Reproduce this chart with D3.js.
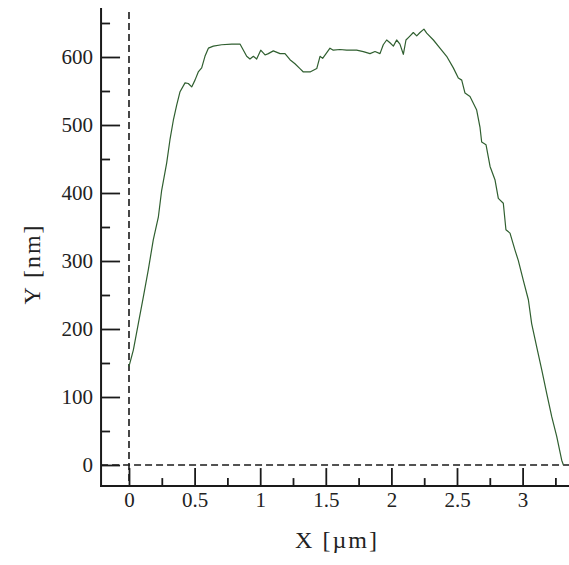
<!DOCTYPE html>
<html>
<head>
<meta charset="utf-8">
<script src="https://cdn.jsdelivr.net/npm/d3@7/dist/d3.min.js"></script>
<style>
  html, body { margin: 0; padding: 0; background: #ffffff; }
  svg { display: block; }
  text { font-family: "Liberation Serif", "DejaVu Serif", serif; fill: #222; }
</style>
</head>
<body>
<svg id="chart" width="569" height="565"></svg>
<script>
// ---- data ----
const profileX = [0, 0.033, 0.071, 0.109, 0.147, 0.185, 0.224, 0.249, 0.287, 0.312,
  0.338, 0.363, 0.389, 0.427, 0.452, 0.478, 0.503, 0.528, 0.554, 0.579,
  0.605, 0.643, 0.706, 0.783, 0.846, 0.897, 0.922, 0.948, 0.973, 1.004,
  1.037, 1.062, 1.100, 1.151, 1.189, 1.227, 1.265, 1.303, 1.329, 1.380,
  1.431, 1.456, 1.476, 1.502, 1.532, 1.557, 1.608, 1.659, 1.735, 1.786,
  1.837, 1.875, 1.913, 1.938, 1.964, 1.989, 2.015, 2.040, 2.065, 2.091,
  2.111, 2.137, 2.167, 2.193, 2.218, 2.248, 2.269, 2.320, 2.370, 2.421,
  2.472, 2.510, 2.536, 2.561, 2.599, 2.650, 2.675, 2.688, 2.721, 2.752,
  2.790, 2.815, 2.853, 2.873, 2.904, 2.942, 2.967, 3.005, 3.044, 3.069,
  3.107, 3.146, 3.184, 3.222, 3.260, 3.298, 3.311];
const profileY = [145, 169, 208, 247, 287, 331, 365, 404, 444, 478,
  507, 529, 549, 562, 561, 556, 566, 578, 584, 601,
  613, 616, 618, 619, 619, 601, 597, 601, 597, 610,
  603, 605, 609, 605, 605, 596, 590, 583, 578, 578,
  583, 601, 598, 605, 613, 610, 611, 610, 610, 608,
  605, 608, 605, 618, 625, 621, 616, 625, 619, 604,
  625, 630, 636, 631, 636, 641, 635, 625, 613, 601,
  584, 569, 566, 547, 542, 522, 497, 475, 471, 439,
  419, 392, 385, 346, 341, 316, 301, 272, 243, 208,
  174, 140, 105, 71, 42, 7, 0];

const xMajorTicks = [0, 0.5, 1, 1.5, 2, 2.5, 3];
const xMinorTicks = [0.25, 0.75, 1.25, 1.75, 2.25, 2.75, 3.25];
const yMajorTicks = [0, 100, 200, 300, 400, 500, 600];
const yMinorTicks = [50, 150, 250, 350, 450, 550, 650];
const xExtent = [-0.213, 3.354];
const yExtent = [-31, 672];
const xTitle = "X [\u00b5m]";
const yTitle = "Y [nm]";

// ---- layout ----
const svg = d3.select("#chart");
const x = d3.scaleLinear().domain([0, 3]).range([129, 522.6]);
const y = d3.scaleLinear().domain([0, 600]).range([465, 57]);

const axisX0 = x(xExtent[0]);   // y-axis position
const axisY0 = y(yExtent[0]);   // x-axis position
const ink = "#1a1a1a";

// dashed zero lines
svg.append("line")
  .attr("x1", x(0)).attr("x2", x(0))
  .attr("y1", 12).attr("y2", axisY0)
  .attr("stroke", ink).attr("stroke-width", 1.6).attr("stroke-dasharray", "7,4");
svg.append("line")
  .attr("x1", axisX0).attr("x2", x(xExtent[1]))
  .attr("y1", y(0)).attr("y2", y(0))
  .attr("stroke", ink).attr("stroke-width", 1.6).attr("stroke-dasharray", "7,4");

// profile line
const pts = d3.zip(profileX, profileY);
svg.append("path")
  .datum(pts)
  .attr("fill", "none")
  .attr("stroke", "#305f30")
  .attr("stroke-width", 1.2)
  .attr("stroke-linejoin", "round")
  .attr("d", d3.line().x(d => x(d[0])).y(d => y(d[1])));

// y axis: major / minor ticks pointing inward, labels outside
function styleAxis(g) {
  g.select(".domain").remove();
  g.selectAll(".tick line").attr("stroke", ink).attr("stroke-width", 1.8);
}
svg.append("g").attr("transform", `translate(${axisX0},0)`)
  .call(d3.axisRight(y).tickValues(yMajorTicks).tickSize(19).tickFormat(""))
  .call(styleAxis);
svg.append("g").attr("transform", `translate(${axisX0},0)`)
  .call(d3.axisRight(y).tickValues(yMinorTicks).tickSize(9).tickFormat(""))
  .call(styleAxis);
const yLab = svg.append("g").attr("transform", `translate(${axisX0},0)`)
  .call(d3.axisLeft(y).tickValues(yMajorTicks).tickSize(0).tickPadding(8).tickFormat(d3.format("d")));
yLab.select(".domain").remove();
yLab.selectAll("text").attr("font-size", 21).attr("font-family", "Liberation Serif").attr("fill", "#2a2a2a");

// x axis
svg.append("g").attr("transform", `translate(0,${axisY0})`)
  .call(d3.axisTop(x).tickValues(xMajorTicks).tickSize(18).tickFormat(""))
  .call(styleAxis);
svg.append("g").attr("transform", `translate(0,${axisY0})`)
  .call(d3.axisTop(x).tickValues(xMinorTicks).tickSize(8).tickFormat(""))
  .call(styleAxis);
const xLab = svg.append("g").attr("transform", `translate(0,${axisY0})`)
  .call(d3.axisBottom(x).tickValues(xMajorTicks).tickSize(0).tickPadding(6).tickFormat(d => String(d)));
xLab.select(".domain").remove();
xLab.selectAll("text").attr("font-size", 21).attr("font-family", "Liberation Serif").attr("fill", "#2a2a2a");

// axis lines
svg.append("line")
  .attr("x1", axisX0).attr("x2", axisX0)
  .attr("y1", y(yExtent[1])).attr("y2", axisY0 + 1)
  .attr("stroke", ink).attr("stroke-width", 2);
svg.append("line")
  .attr("x1", axisX0 - 1).attr("x2", x(xExtent[1]))
  .attr("y1", axisY0).attr("y2", axisY0)
  .attr("stroke", ink).attr("stroke-width", 2);

// titles
svg.append("text")
  .attr("x", 337).attr("y", 548)
  .attr("text-anchor", "middle")
  .attr("font-size", 24)
  .attr("letter-spacing", 2)
  .text(xTitle);
svg.append("text")
  .attr("transform", "translate(40,264) rotate(-90)")
  .attr("text-anchor", "middle")
  .attr("font-size", 24)
  .attr("letter-spacing", 2)
  .text(yTitle);
</script>
</body>
</html>
